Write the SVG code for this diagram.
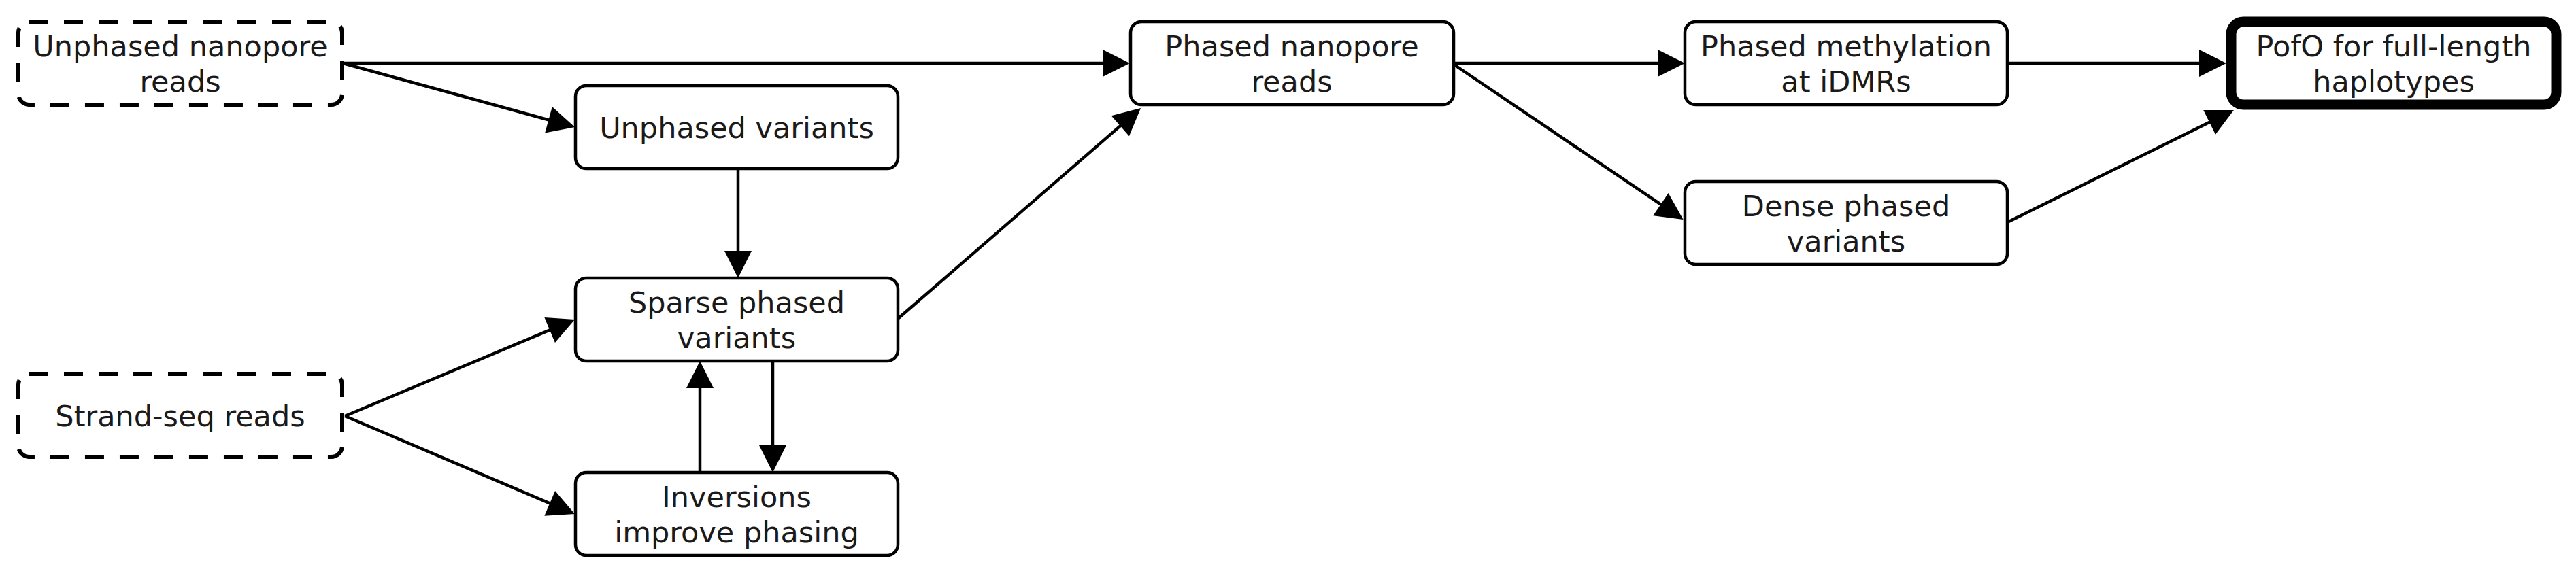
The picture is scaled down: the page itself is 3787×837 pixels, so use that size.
<svg xmlns="http://www.w3.org/2000/svg" width="3787" height="837" viewBox="0 0 3787 837">
<style>
.box{fill:#fff;stroke:#000;stroke-width:4.5}
.dash{fill:#fff;stroke:#000;stroke-width:6;stroke-dasharray:28 23}
.bold{fill:#fff;stroke:#000;stroke-width:15}
.lbl{font-family:"DejaVu Sans",Verdana,sans-serif;font-size:43px;fill:#1a1a1a;text-anchor:middle}
.edge{fill:none;stroke:#000;stroke-width:4.5}
</style>
<defs>
<marker id="arr" markerUnits="userSpaceOnUse" markerWidth="42" markerHeight="42" refX="30" refY="20" orient="auto" overflow="visible">
<path d="M0,0 L40,20 L0,40 Z" fill="#000"/>
</marker>
</defs>
<rect width="3787" height="837" fill="#fff"/>
<g id="connectors">
<line class="edge" x1="503" y1="93" x2="1651" y2="93" marker-end="url(#arr)"/>
<line class="edge" x1="504" y1="93" x2="835.4" y2="184.3" marker-end="url(#arr)"/>
<line class="edge" x1="1085" y1="248" x2="1085" y2="399" marker-end="url(#arr)"/>
<line class="edge" x1="507" y1="612" x2="835.8" y2="473.9" marker-end="url(#arr)"/>
<line class="edge" x1="507" y1="612" x2="835.8" y2="752.1" marker-end="url(#arr)"/>
<line class="edge" x1="1029" y1="695" x2="1029" y2="541" marker-end="url(#arr)"/>
<line class="edge" x1="1136" y1="531" x2="1136" y2="685" marker-end="url(#arr)"/>
<line class="edge" x1="1321" y1="468" x2="1669.5" y2="165.6" marker-end="url(#arr)"/>
<line class="edge" x1="2137" y1="93" x2="2467" y2="93" marker-end="url(#arr)"/>
<line class="edge" x1="2139" y1="96" x2="2466.3" y2="317.4" marker-end="url(#arr)"/>
<line class="edge" x1="2951" y1="93" x2="3263" y2="93" marker-end="url(#arr)"/>
<line class="edge" x1="2951" y1="327" x2="3275" y2="166.5" marker-end="url(#arr)"/>
</g>
<g id="n1">
<rect class="dash" x="27" y="32" width="476" height="122" rx="16"/>
<text class="lbl" x="265" y="83">Unphased nanopore</text>
<text class="lbl" x="265" y="135">reads</text>
</g>
<g id="n2">
<rect class="box" x="846" y="126" width="474" height="122" rx="16"/>
<text class="lbl" x="1083" y="203">Unphased variants</text>
</g>
<g id="n3">
<rect class="box" x="846" y="409" width="474" height="122" rx="16"/>
<text class="lbl" x="1083" y="460">Sparse phased</text>
<text class="lbl" x="1083" y="512">variants</text>
</g>
<g id="n4">
<rect class="box" x="846" y="695" width="474" height="122" rx="16"/>
<text class="lbl" x="1083" y="746">Inversions</text>
<text class="lbl" x="1083" y="798">improve phasing</text>
</g>
<g id="n5">
<rect class="dash" x="27" y="550" width="476" height="122" rx="16"/>
<text class="lbl" x="265" y="627">Strand-seq reads</text>
</g>
<g id="n6">
<rect class="box" x="1662" y="32" width="475" height="122" rx="16"/>
<text class="lbl" x="1899" y="83">Phased nanopore</text>
<text class="lbl" x="1899" y="135">reads</text>
</g>
<g id="n7">
<rect class="box" x="2477" y="32" width="474" height="122" rx="16"/>
<text class="lbl" x="2714" y="83">Phased methylation</text>
<text class="lbl" x="2714" y="135">at iDMRs</text>
</g>
<g id="n8">
<rect class="box" x="2477" y="267" width="474" height="122" rx="16"/>
<text class="lbl" x="2714" y="318">Dense phased</text>
<text class="lbl" x="2714" y="370">variants</text>
</g>
<g id="n9">
<rect class="bold" x="3280" y="32" width="478" height="122" rx="18"/>
<text class="lbl" x="3519" y="83">PofO for full-length</text>
<text class="lbl" x="3519" y="135">haplotypes</text>
</g>
</svg>
